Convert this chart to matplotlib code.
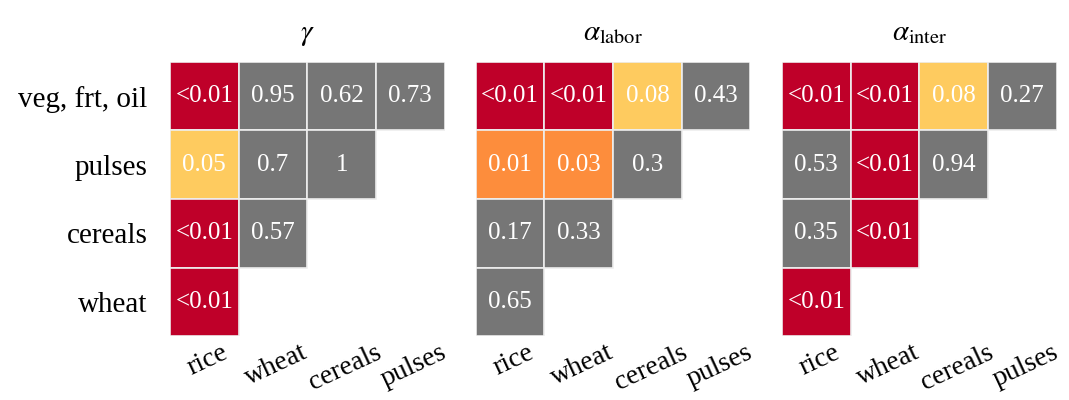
import numpy as np
import matplotlib
matplotlib.use("Agg")
import matplotlib.pyplot as plt
from matplotlib.colors import ListedColormap, BoundaryNorm

plt.rcParams['font.family'] = ['Liberation Serif', 'DejaVu Serif']
plt.rcParams['mathtext.fontset'] = 'stix'

rows = ['veg, frt, oil', 'pulses', 'cereals', 'wheat']
cols = ['rice', 'wheat', 'cereals', 'pulses']
titles = [r'$\gamma$', r'$\alpha_{\mathrm{labor}}$', r'$\alpha_{\mathrm{inter}}$']

# p-values, 0.001 stands for "<0.01", nan = empty cell
nan = np.nan
p_gamma = [[0.001, 0.95, 0.62, 0.73],
           [0.05, 0.7, 1.0, nan],
           [0.001, 0.57, nan, nan],
           [0.001, nan, nan, nan]]
p_labor = [[0.001, 0.001, 0.08, 0.43],
           [0.01, 0.03, 0.3, nan],
           [0.17, 0.33, nan, nan],
           [0.65, nan, nan, nan]]
p_inter = [[0.001, 0.001, 0.08, 0.27],
           [0.53, 0.001, 0.94, nan],
           [0.35, 0.001, nan, nan],
           [0.001, nan, nan, nan]]

cmap = ListedColormap(['#bf0029', '#fd8d3c', '#fecb5f', '#767676'])
norm = BoundaryNorm([0, 0.01, 0.05, 0.1, 10], cmap.N)


def label(p):
    if p < 0.01:
        return '<0.01'
    return f'{p:.2f}'.rstrip('0').rstrip('.')


fig = plt.figure(figsize=(10.69, 4), dpi=100)
lefts = [0.159, 0.445, 0.7315]
for i, (data, title) in enumerate(zip([p_gamma, p_labor, p_inter], titles)):
    ax = fig.add_axes([lefts[i], 0.16, 0.257, 0.685])
    for r in range(4):
        for c in range(4):
            v = data[r][c]
            if np.isnan(v):
                continue
            ax.bar(c + 0.5, 1, width=1, bottom=r, color=cmap(norm(v)),
                   edgecolor='#eeeeee', linewidth=1.2)
            ax.text(c + 0.5, r + 0.5, label(v), ha='center', va='center',
                    color='white', fontsize=18)
    ax.set_xlim(0, 4)
    ax.set_ylim(4, 0)
    ax.set_xticks(np.arange(4) + 0.55)
    ax.set_xticklabels(cols, rotation=25, fontsize=20)
    ax.set_yticks(np.arange(4) + 0.5)
    ax.set_yticklabels(rows if i == 0 else [], fontsize=21)
    ax.tick_params(axis='x', length=0, pad=3)
    ax.tick_params(axis='y', length=0, pad=16)
    for s in ax.spines.values():
        s.set_visible(False)
    ax.set_title(title, fontsize=21, pad=16)

fig.savefig('out.png', dpi=100)
